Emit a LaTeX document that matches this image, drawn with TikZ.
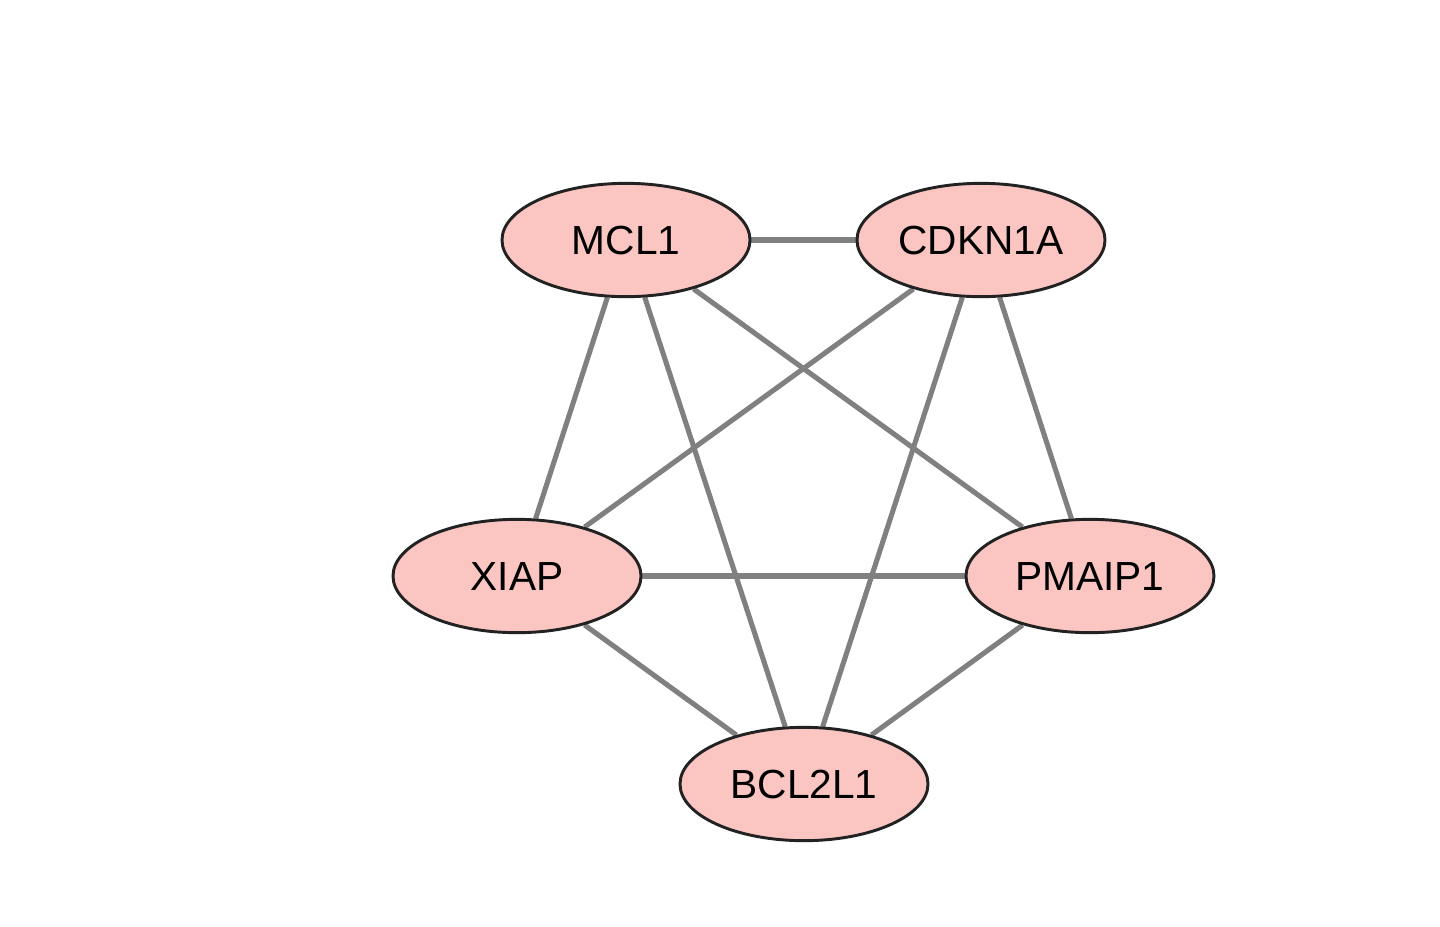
\documentclass[tikz,border=0pt]{standalone}
\usepackage{fontspec}
\setmainfont{Liberation Sans}
\usetikzlibrary{shapes.geometric,backgrounds}
\definecolor{genefill}{HTML}{FBC6C2}
\definecolor{geneline}{HTML}{222222}
\definecolor{linkgray}{HTML}{808080}
\begin{document}
\begin{tikzpicture}[x=0.75pt,y=-0.75pt,
  gene/.style={ellipse,draw=geneline,fill=genefill,line width=2.2pt,
    minimum width=186pt,minimum height=85pt,inner sep=0pt,
    font=\fontsize{30.5}{36}\selectfont},
  link/.style={draw=linkgray,line width=3.8pt}]

\useasboundingbox (0,0) rectangle (1440,926);

\node[gene] (mcl) at (626,240) {MCL1};
\node[gene] (cdk) at (981,240) {CDKN1A};
\node[gene] (xiap) at (517,576) {XIAP};
\node[gene] (pma) at (1090,576) {PMAIP1};
\node[gene] (bcl) at (804,784) {BCL2L1};

\begin{pgfonlayer}{background}
\draw[link] (mcl) -- (cdk);
\draw[link] (mcl) -- (xiap);
\draw[link] (mcl) -- (pma);
\draw[link] (mcl) -- (bcl);
\draw[link] (cdk) -- (xiap);
\draw[link] (cdk) -- (pma);
\draw[link] (cdk) -- (bcl);
\draw[link] (xiap) -- (pma);
\draw[link] (xiap) -- (bcl);
\draw[link] (pma) -- (bcl);
\end{pgfonlayer}

\end{tikzpicture}
\end{document}
